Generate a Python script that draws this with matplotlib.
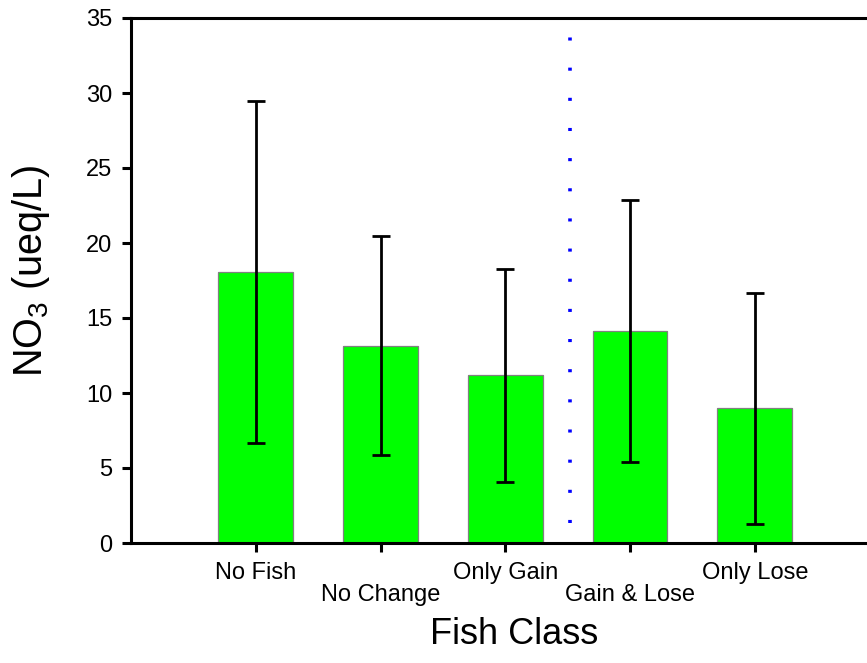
import matplotlib
matplotlib.use("Agg")
import matplotlib.pyplot as plt

plt.rcParams['font.family'] = ['Liberation Sans', 'DejaVu Sans']
plt.rcParams['mathtext.fontset'] = 'custom'
plt.rcParams['mathtext.rm'] = 'Liberation Sans'
plt.rcParams['mathtext.it'] = 'Liberation Sans:italic'
plt.rcParams['mathtext.bf'] = 'Liberation Sans:bold'

categories = ["No Fish", "No Change", "Only Gain", "Gain & Lose", "Only Lose"]
means = [18.1, 13.15, 11.2, 14.15, 9.0]
errors = [11.4, 7.3, 7.1, 8.75, 7.7]
yticks = [0, 5, 10, 15, 20, 25, 30, 35]
divider_x = 3.52
divider_ymin = 1.33

fig = plt.figure(figsize=(8.67, 6.63), dpi=100)
ax = fig.add_axes([131/867, 1 - 543/663, 766/867, (543 - 18)/663])

x = list(range(1, len(categories) + 1))
ax.bar(x, means, width=0.6, color='#00FF00', edgecolor='#808080', linewidth=0.9, zorder=2)
ax.errorbar(x, means, yerr=errors, fmt='none', ecolor='black', elinewidth=2.0,
            capsize=6.2, capthick=2.0, zorder=3)

ax.plot([divider_x, divider_x], [divider_ymin, 35], color='#0000FF', lw=2.6,
        ls=(0, (0.85, 7.5)), zorder=4, clip_on=True)

ax.set_xlim(0, 6.14)
ax.set_ylim(0, 35)
ax.set_yticks(yticks)
ax.set_xticks(x)
ax.set_xticklabels(categories)

for s in ['left', 'bottom', 'top']:
    ax.spines[s].set_linewidth(2.2)
ax.spines['right'].set_visible(False)
ax.tick_params(axis='both', which='major', length=6.5, width=2.2, labelsize=17, direction='out')
ax.tick_params(axis='y', pad=7)
ax.tick_params(axis='x', top=False)
for i, tick in enumerate(ax.xaxis.get_major_ticks()):
    tick.set_pad(7 if i % 2 == 0 else 23)

ax.set_xlabel("Fish Class", fontsize=26, labelpad=8)
ax.set_ylabel(r"NO$_{\mathregular{3}}$ (ueq/L)", fontsize=28.5)
ax.yaxis.set_label_coords(-0.103, 0.518)

fig.savefig("out.png", dpi=100)
